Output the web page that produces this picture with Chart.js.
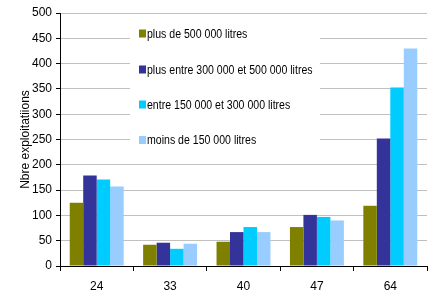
<!DOCTYPE html>
<html lang="fr">
<head>
  <meta charset="UTF-8">
  <title>Nbre exploitations</title>
  <script src="https://cdn.jsdelivr.net/npm/chart.js"></script>
  <style>
    body {
      margin: 0;
      padding: 0;
      background: white;
    }
    #wrap {
      width: 436px;
      height: 296px;
    }
  </style>
</head>
<body>
  <div id="wrap"><canvas id="chart" width="436" height="296"></canvas></div>
  <script>
    // departements
    const categories = ['24', '33', '40', '47', '64'];

    // nombre d'exploitations par classe de quota
    const plus500 = [125, 42, 48, 77, 119];
    const entre300et500 = [179, 46, 67, 101, 252];
    const entre150et300 = [171, 34, 77, 97, 353];
    const moins150 = [157, 44, 67, 90, 430];

    const seriesNames = [
      'plus de 500 000 litres',
      'plus entre 300 000 et 500 000 litres',
      'entre 150 000 et 300 000 litres',
      'moins de 150 000 litres'
    ];
    const colors = ['#808000', '#333399', '#00ccff', '#99ccff'];

    const FONT = "'Liberation Sans', Arial, sans-serif";

    // legende dessinee dans la zone du graphique (boite blanche)
    const insideLegend = {
      id: 'insideLegend',
      afterDatasetsDraw(chart) {
        const ctx = chart.ctx;
        ctx.save();
        ctx.fillStyle = '#ffffff';
        ctx.fillRect(130, 19, 190, 133);
        const ys = [33.5, 69.5, 104.5, 140];
        chart.data.datasets.forEach((ds, i) => {
          ctx.fillStyle = ds.backgroundColor;
          ctx.fillRect(139, ys[i] - 4, 7, 8);
          ctx.save();
          ctx.translate(147, ys[i]);
          ctx.scale(0.88, 1);
          ctx.fillStyle = '#000';
          ctx.font = '12px ' + FONT;
          ctx.textBaseline = 'middle';
          ctx.fillText(ds.label, 0, 1);
          ctx.restore();
        });
        ctx.restore();
      }
    };

    const seriesData = [plus500, entre300et500, entre150et300, moins150];

    new Chart(document.getElementById('chart'), {
      type: 'bar',
      data: {
        labels: categories,
        datasets: seriesData.map((d, i) => ({
          label: seriesNames[i],
          data: d,
          backgroundColor: colors[i],
          borderWidth: 0,
          categoryPercentage: 0.735,
          barPercentage: 1
        }))
      },
      options: {
        responsive: false,
        animation: false,
        layout: {
          padding: { top: 13, right: 9, left: 0, bottom: 0 }
        },
        plugins: {
          legend: { display: false },
          tooltip: { enabled: false }
        },
        scales: {
          x: {
            afterFit(scale) { scale.height = 30; },
            grid: {
              offset: true,
              drawOnChartArea: false,
              drawTicks: true,
              tickLength: 5,
              tickColor: '#000'
            },
            border: { color: '#000', width: 1 },
            ticks: {
              color: '#000',
              font: { family: FONT, size: 12 },
              padding: 8
            }
          },
          y: {
            min: 0,
            max: 500,
            afterFit(scale) { scale.width = 60; },
            ticks: {
              stepSize: 50,
              color: '#000',
              font: { family: FONT, size: 12 },
              padding: 4
            },
            grid: {
              color: '#c0c0c0',
              tickColor: '#000',
              tickLength: 4
            },
            border: { color: '#000', width: 1 },
            title: {
              display: true,
              text: 'Nbre exploitatiions',
              color: '#000',
              font: { family: FONT, size: 12 },
              padding: { top: 18, bottom: 4 }
            }
          }
        }
      },
      plugins: [insideLegend]
    });
  </script>
</body>
</html>
